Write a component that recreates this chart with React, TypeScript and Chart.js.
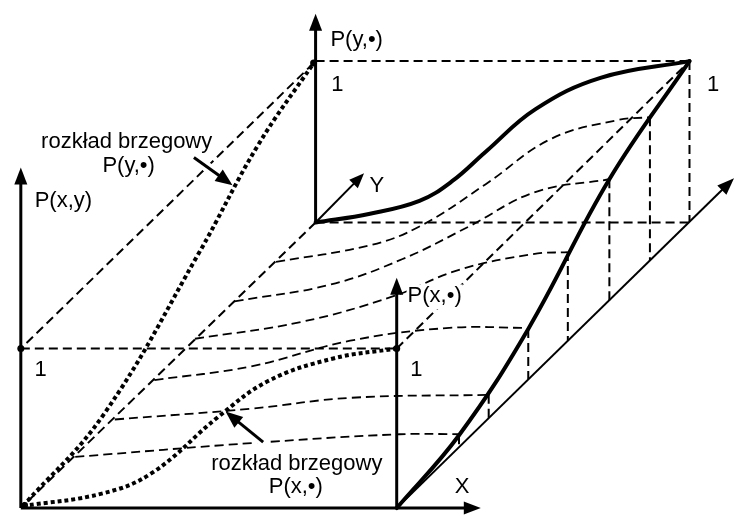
import React, { useEffect, useRef } from "react";
import { Chart, registerables } from "chart.js";

Chart.register(...registerables);

const W = 739;
const H = 518;

type Pt = [number, number];

// Thick solid curves
const backCurve: Pt[] = [[315,222],[370,213],[420,200],[453,180],[487,150],[537,107],[603,75],[693,58]];
const rightCurve: Pt[] = [[397,512],[460,438],[530,330],[612,178],[693,58]];

// Dotted marginal curves
const dottedLeft: Pt[] = [[19,510],[100,418],[197,253],[257,143],[313,60]];
const dottedFront: Pt[] = [[19,510],[100,497],[150,476],[217,419],[267,383],[333,360],[396,350]];

// Dashed contour curves (constant Y)
const contour1: Pt[] = [[72,460],[250,446],[400,437],[460,437]];
const contour2: Pt[] = [[112,422],[250,411],[350,400],[490,397]];
const contour3: Pt[] = [[152,382],[250,368],[350,342],[450,329],[530,329]];
const contour4: Pt[] = [[193,340],[300,323],[393,297],[460,270],[535,254],[570,252]];
const contour5: Pt[] = [[233,302],[330,285],[403,259],[470,226],[537,191],[612,178]];
const contour6: Pt[] = [[275,262],[370,245],[420,226],[487,183],[553,137],[620,118],[653,115]];

// Dashed straight frame lines
const frameLines: Pt[][] = [
  [[315,58],[693,58]],
  [[693,58],[693,221]],
  [[315,222],[693,222]],
  [[313,60],[17,350]],
  [[17,350],[397,350]],
  [[397,350],[693,58]],
  [[315,222],[17,512]],
];

// Vertical drops from the X=1 curve to the Y axis line
const dropX = [460, 490, 530, 570, 612, 653];
const dropTop = [438, 397, 330, 252, 178, 115];
const dropBottom = [450, 421, 381, 342, 301, 261];

// Marked points
const dots: Pt[] = [[17,350],[397,350],[313,60]];

// Arrows: tail, tip, shaft width, head length, head half-width, halo
type Arrow = { from: Pt; to: Pt; lw: number; len: number; hw: number; halo?: boolean };
const arrows: Arrow[] = [
  { from: [17,512], to: [17,166], lw: 3, len: 17, hw: 6.5 },
  { from: [17,512], to: [482,512], lw: 3, len: 17, hw: 6.5 },
  { from: [397,512], to: [397,278], lw: 3, len: 17, hw: 6.5 },
  { from: [315,222], to: [315,10], lw: 3, len: 17, hw: 6.5 },
  { from: [315,222], to: [364,172], lw: 2, len: 15, hw: 6 },
  { from: [397,512], to: [738,177], lw: 2, len: 17, hw: 6.5 },
  { from: [192,156], to: [231,184], lw: 3, len: 17, hw: 7, halo: true },
  { from: [262,445], to: [224,414], lw: 3, len: 17, hw: 7, halo: true },
];

type Label = { text: string; at: Pt; align?: CanvasTextAlign; bg?: boolean };
const labels: Label[] = [
  { text: "P(y,\u2022)", at: [330,36], align: "left" },
  { text: "1", at: [337,82] },
  { text: "1", at: [717,82] },
  { text: "rozkład brzegowy", at: [124,140] },
  { text: "P(y,\u2022)", at: [126,164] },
  { text: "P(x,y)", at: [31,200], align: "left" },
  { text: "Y", at: [377,185] },
  { text: "P(x,\u2022)", at: [408,297], align: "left", bg: true },
  { text: "1", at: [37,372] },
  { text: "1", at: [417,372] },
  { text: "rozkład brzegowy", at: [296,467] },
  { text: "P(x,\u2022)", at: [295,491] },
  { text: "X", at: [463,491] },
];

const FONT = '22px "Liberation Sans", Arial, sans-serif';

const toXY = (pts: Pt[]) => pts.map(([x, y]) => ({ x, y }));

function shaftEnd(a: Arrow, frac: number): Pt {
  const dx = a.to[0] - a.from[0];
  const dy = a.to[1] - a.from[1];
  const d = Math.hypot(dx, dy);
  return [a.to[0] - (dx / d) * a.len * frac, a.to[1] - (dy / d) * a.len * frac];
}

const overlayPlugin = {
  id: "overlay",
  afterDatasetsDraw(chart: any) {
    const ctx: CanvasRenderingContext2D = chart.ctx;
    const xs = chart.scales.x;
    const ys = chart.scales.y;
    const px = (p: Pt): Pt => [xs.getPixelForValue(p[0]), ys.getPixelForValue(p[1])];
    ctx.save();
    ctx.fillStyle = "#000";
    for (const a of arrows) {
      const [x1, y1] = px(a.from);
      const [x2, y2] = px(a.to);
      const ang = Math.atan2(y2 - y1, x2 - x1);
      const bx = x2 - Math.cos(ang) * a.len;
      const by = y2 - Math.sin(ang) * a.len;
      const nx = -Math.sin(ang) * a.hw;
      const ny = Math.cos(ang) * a.hw;
      ctx.beginPath();
      ctx.moveTo(x2, y2);
      ctx.lineTo(bx + nx, by + ny);
      ctx.lineTo(bx - nx, by - ny);
      ctx.closePath();
      ctx.fill();
    }
    // origin marker
    const [ox, oy] = px([21, 509]);
    ctx.lineWidth = 1.5;
    ctx.strokeStyle = "#000";
    ctx.beginPath();
    ctx.arc(ox, oy, 2.5, 0, Math.PI * 2);
    ctx.stroke();
    // labels
    ctx.font = FONT;
    ctx.textBaseline = "middle";
    for (const l of labels) {
      const [x, y] = px(l.at);
      const align = l.align ?? "center";
      ctx.textAlign = align;
      if (l.bg) {
        const w = ctx.measureText(l.text).width;
        const left = align === "left" ? x : x - w / 2;
        ctx.fillStyle = "#fff";
        ctx.fillRect(left - 1, y - 12, w + 2, 25);
      }
      ctx.fillStyle = "#000";
      ctx.fillText(l.text, x, y);
    }
    ctx.restore();
  },
};

function buildDatasets() {
  const list: any[] = [];
  const line = (pts: Pt[], opts: any) => ({
    data: toXY(pts),
    showLine: true,
    pointRadius: 0,
    borderColor: "#000",
    backgroundColor: "#000",
    fill: false,
    clip: false,
    tension: 0,
    ...opts,
  });
  const dashed = { borderWidth: 2, borderDash: [9, 5] };
  for (const f of frameLines) list.push(line(f, dashed));
  dropX.forEach((x, i) => {
    list.push(line([[x, dropTop[i]], [x, dropBottom[i]]], dashed));
  });
  const curveOpts = { borderWidth: 1.8, borderDash: [9, 5], tension: 0.4 };
  for (const c of [contour1, contour2, contour3, contour4, contour5, contour6]) list.push(line(c, curveOpts));
  const dottedOpts = { borderWidth: 4, borderDash: [4, 3], tension: 0.4 };
  list.push(line(dottedLeft, dottedOpts));
  list.push(line(dottedFront, dottedOpts));
  const thickOpts = { borderWidth: 4, tension: 0.4, borderCapStyle: "round" };
  list.push(line(backCurve, thickOpts));
  list.push(line(rightCurve, thickOpts));
  for (const a of arrows) {
    if (a.halo) list.push(line([a.from, shaftEnd(a, 0.9)], { borderColor: "#fff", borderWidth: 10, borderCapStyle: "round" }));
  }
  for (const a of arrows) {
    list.push(line([a.from, shaftEnd(a, 0.6)], { borderWidth: a.lw }));
  }
  list.push({
    data: toXY(dots),
    showLine: false,
    pointRadius: 3.5,
    pointBackgroundColor: "#000",
    pointBorderWidth: 0,
    clip: false,
  });
  const n = list.length;
  list.forEach((d, i) => (d.order = n - i));
  return list;
}

export default function App() {
  const ref = useRef<HTMLCanvasElement>(null);
  useEffect(() => {
    document.body.style.margin = "0";
    if (!ref.current) return;
    const chart = new Chart(ref.current, {
      type: "scatter",
      data: { datasets: buildDatasets() },
      options: {
        animation: false,
        responsive: false,
        events: [],
        layout: { padding: 0 },
        plugins: { legend: { display: false }, tooltip: { enabled: false } },
        scales: {
          x: { type: "linear", min: 0, max: W, display: false },
          y: { type: "linear", min: 0, max: H, reverse: true, display: false },
        },
      },
      plugins: [overlayPlugin],
    } as any);
    return () => chart.destroy();
  }, []);
  return (
    <div style={{ width: W, height: H, background: "#fff" }}>
      <canvas ref={ref} width={W} height={H} style={{ display: "block" }} />
    </div>
  );
}
